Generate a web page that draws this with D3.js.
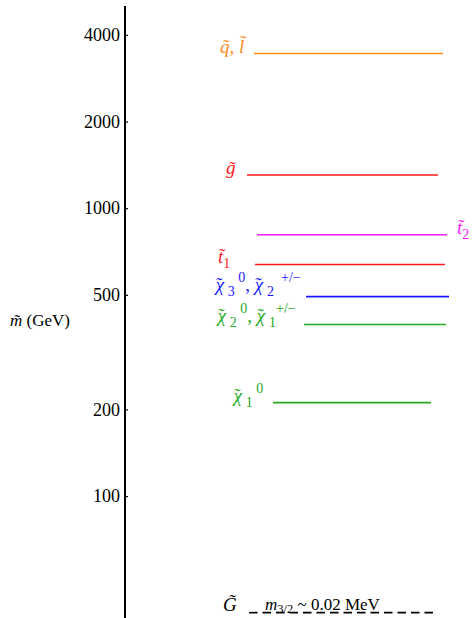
<!DOCTYPE html>
<html>
<head>
<meta charset="utf-8">
<script src="https://cdn.jsdelivr.net/npm/d3@7/dist/d3.min.js"></script>
<style>
  body { margin: 0; background: #fff; }
  svg text { font-family: "Liberation Serif", "DejaVu Serif", serif; }
</style>
</head>
<body>
<div id="chart"></div>
<script>
// mass levels (GeV)
var particles = ["sq", "gluino", "stop2", "stop1", "chi3", "chi2", "chi1", "gravitino"];
var masses    = [3460, 1310, 812, 640, 495, 396, 212, 39.5];
var colors    = ["#ff8a1c", "#ff1a1a", "#ff1aff", "#ff1a1a", "#1a1aff", "#22aa22", "#22aa22", "#000000"];
var tickValues = [100, 200, 500, 1000, 2000, 4000];

// horizontal layout of each level: line start/end, label x, label baseline shift
var lineX  = [[254, 443], [247, 438], [257, 447], [255, 445], [306, 449], [304, 446], [273, 431], [249, 437]];
var labelX = [220, 226, 457, 218, 215, 217, 233, 223];
var labelDy = [0, 0, 0, -1, -5, -2, 0, -1];

var width = 472, height = 618;
var axisX = 125;

var y = d3.scaleLog()
    .domain([37.7, 5040])
    .range([618, 6]);

var svg = d3.select("#chart").append("svg")
    .attr("width", width)
    .attr("height", height);

var axis = d3.axisLeft(y)
    .tickValues(tickValues)
    .tickFormat(d3.format("d"))
    .tickSizeInner(-3)
    .tickSizeOuter(0)
    .tickPadding(5);

var gAxis = svg.append("g")
    .attr("transform", "translate(" + axisX + ",0)")
    .call(axis);
gAxis.attr("font-family", null);
gAxis.select(".domain").remove();
gAxis.selectAll(".tick line").attr("stroke", "#000").attr("stroke-width", 1.2);
gAxis.selectAll(".tick text")
    .attr("fill", "#000")
    .style("font-family", "'Liberation Serif', serif")
    .style("font-size", "18px");

svg.append("line")
    .attr("x1", axisX).attr("x2", axisX)
    .attr("y1", y.range()[1]).attr("y2", y.range()[0])
    .attr("stroke", "#000")
    .attr("stroke-width", 2);

// axis title
var title = svg.append("text")
    .attr("x", 10).attr("y", 326)
    .style("font-size", "17px");
title.append("tspan").attr("font-style", "italic").text("m\u0303");
title.append("tspan").text(" (GeV)");

// level lines
svg.selectAll(".level")
    .data(particles)
    .enter().append("line")
    .attr("class", "level")
    .attr("x1", function(d, i) { return lineX[i][0]; })
    .attr("x2", function(d, i) { return lineX[i][1]; })
    .attr("y1", function(d, i) { return y(masses[i]) + 0.5; })
    .attr("y2", function(d, i) { return y(masses[i]) + 0.5; })
    .attr("stroke", function(d, i) { return colors[i]; })
    .attr("stroke-width", 1.6)
    .attr("stroke-dasharray", function(d) { return d == "gravitino" ? "8.5,5" : null; });

// labels: pieces of [text, kind]  m = italic, c = chi with tilde, b = sub, p = sup, r = roman
var pieces = {
  sq: [["q\u0303, l\u0303", "m"]],
  gluino: [["g\u0303", "m"]],
  stop2: [["t\u0303", "m"], ["2", "b"]],
  stop1: [["t\u0303", "m"], ["1", "b"]],
  chi3: [["\u03c7", "c"], [" 3", "b"], [" 0", "p"], [", ", "r"], ["\u03c7", "c"], [" 2", "b"], ["  +/\u2212", "p"]],
  chi2: [["\u03c7", "c"], [" 2", "b"], [" 0", "p"], [", ", "r"], ["\u03c7", "c"], [" 1", "b"], ["+/\u2212", "p"]],
  chi1: [["\u03c7", "c"], [" 1", "b"], [" 0", "p"]],
  gravitino: [["G\u0303", "m"]]
};

svg.selectAll(".lab")
    .data(particles)
    .enter().append("text")
    .attr("class", "lab")
    .attr("x", function(d, i) { return labelX[i]; })
    .attr("y", function(d, i) { return y(masses[i]) + labelDy[i]; })
    .attr("fill", function(d, i) { return colors[i]; })
    .style("font-size", "19px")
    .each(function(d) {
      var t = d3.select(this), level = 0, back = 0;
      pieces[d].forEach(function(p) {
        var target = p[1] == "b" ? 5 : p[1] == "p" ? -9 : 0;
        var ts = t.append("tspan")
            .attr("dy", target - level)
            .style("white-space", "pre")
            .text(p[0]);
        if (back) { ts.attr("dx", back); back = 0; }
        level = target;
        if (p[1] == "m" || p[1] == "c") ts.attr("font-style", "italic");
        if (p[1] == "b") ts.style("font-size", "14px");
        if (p[1] == "p") ts.style("font-size", "14px");
        if (p[1] == "c") {
          // tilde drawn over the chi
          t.append("tspan")
              .attr("dx", -9)
              .attr("font-style", "italic")
              .text("\u02dc");
          back = 3;
        }
      });
    });

// gravitino mass note
var note = svg.append("text")
    .attr("x", 265)
    .attr("y", y(masses[7]) - 2)
    .style("font-size", "17px");
note.append("tspan").attr("font-style", "italic").text("m");
note.append("tspan").attr("dy", 3).style("font-size", "12.5px").text("3/2");
note.append("tspan").attr("dy", -3).text(" ~ 0.02 MeV");
</script>
</body>
</html>
